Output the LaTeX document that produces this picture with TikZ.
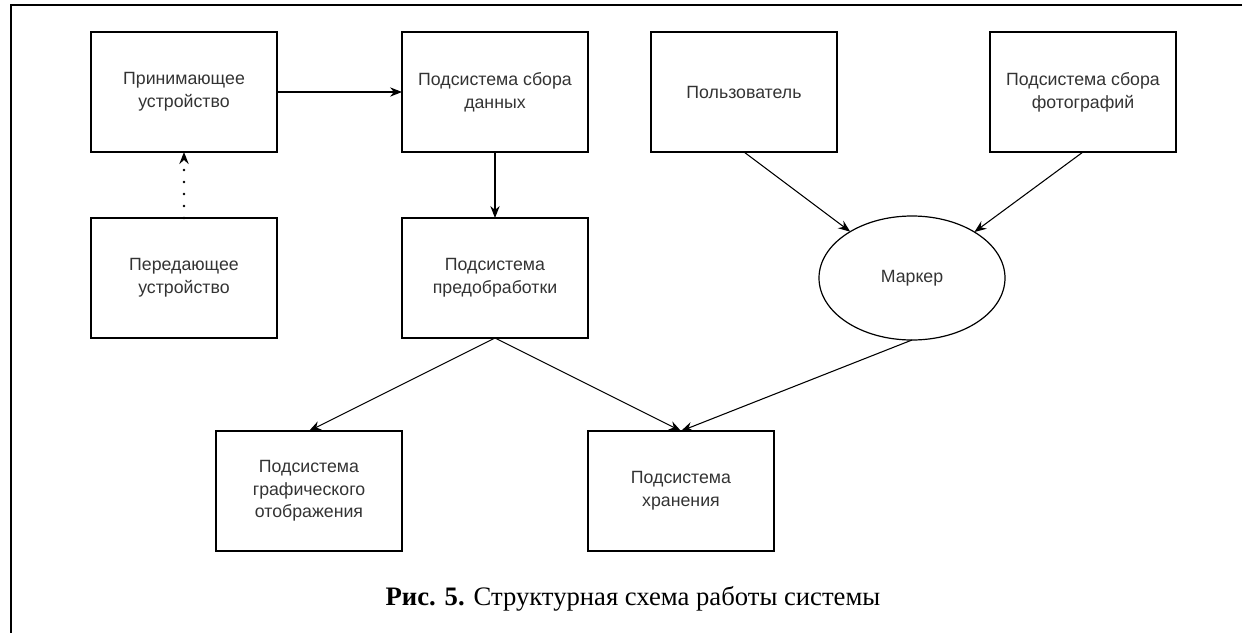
\documentclass[tikz,border=0pt]{standalone}
\usepackage{fontspec}
\setmainfont{Liberation Serif}
\setsansfont{Liberation Sans}
\usetikzlibrary{
    positioning,
    arrows.meta,
    shapes.geometric
}

\begin{document}
\begin{tikzpicture}[
    x=0.75pt, y=0.75pt,
    node distance=49.5pt and 93.75pt,
    blockbox/.style={rectangle, draw=black, line width=1pt, outer sep=0pt, minimum width=139.5pt, minimum height=90pt, inner sep=2pt, align=center, text=black!80, font=\sffamily\fontsize{13.3}{17}\selectfont},
    ovalbox/.style={ellipse, draw=black, line width=0.9pt, outer sep=0pt, minimum width=139.5pt, minimum height=93pt, inner sep=0pt, align=center, text=black!80, font=\sffamily\fontsize{13.3}{17}\selectfont},
    arrow/.style={-{Stealth[length=9pt, width=7pt, inset=3pt]}, line width=0.8pt, draw=black},
    dotarrow/.style={arrow, line width=2.2pt, dash pattern=on 0pt off 9pt, line cap=round}
]
\useasboundingbox (0,0) rectangle (1247,-633);
\draw[line width=1.5pt] (1242,-5) -- (11,-5) -- (11,-633);

\node[blockbox] (recv) at (184,-92) {Принимающее\\устройство};
\node[blockbox, right=of recv] (collect) {Подсистема сбора\\данных};
\node[blockbox, right=47.25pt of collect] (user) {Пользователь};
\node[blockbox, right=114.75pt of user] (photo) {Подсистема сбора\\фотографий};
\node[blockbox, below=of recv] (send) {Передающее\\устройство};
\node[blockbox, below=of collect] (prep) {Подсистема\\предобработки};
\node[ovalbox, right=173.25pt of prep] (marker) {Маркер};
\node[blockbox, below=69.75pt of prep, xshift=-139.5pt] (graph) {Подсистема\\графического\\отображения};
\node[blockbox, below=69.75pt of prep, xshift=139.5pt] (store) {Подсистема\\хранения};
\node[anchor=base, font=\fontsize{20}{24}\selectfont] (caption) at (633,-605) {\textbf{Рис. 5.} Структурная схема работы системы};

\draw[arrow] (recv) -- (collect);
\draw[dotarrow] (send) -- (recv);
\draw[arrow] (collect) -- (prep);
\draw[arrow] (user.south) -- (marker);
\draw[arrow] (photo.south) -- (marker);
\draw[arrow] (prep.south) -- (graph.north);
\draw[arrow] (prep.south) -- (store.north);
\draw[arrow] (marker.south) -- (store.north);
\end{tikzpicture}
\end{document}
